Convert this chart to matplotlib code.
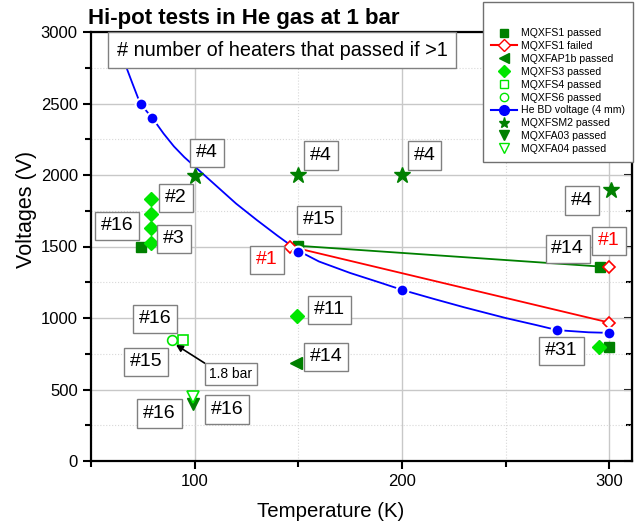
import matplotlib
matplotlib.use("Agg")
import matplotlib.pyplot as plt
from matplotlib.lines import Line2D
from matplotlib.ticker import MultipleLocator

plt.rcParams['font.family'] = ['Liberation Sans', 'DejaVu Sans']

# datos (T en K, V en voltios)
fs1_pass_T = [74, 150, 295.5, 300]
fs1_pass_V = [1500, 1505, 1360, 800]
fs1_fail_T = [146, 300, 300]
fs1_fail_V = [1500, 1360, 968]
fap1b_T = [149]
fap1b_V = [688]
fs3_T = [79, 79, 79, 79, 149.5, 295]
fs3_V = [1833, 1728, 1630, 1527, 1017, 798]
fs4_T = [94.5]
fs4_V = [848]
fs6_T = [89]
fs6_V = [848]
he_T = [74, 79.6, 150, 200, 275, 300]
he_V = [2497, 2399, 1465, 1197, 915, 896]
fsm2_T = [100, 150, 200, 301]
fsm2_V = [1995, 2000, 2000, 1898]
fa03_T = [99]
fa03_V = [402]
fa04_T = [99]
fa04_V = [450]

# curva de ruptura del He (leida a lo largo de la linea azul)
curva_T = [62, 65, 67, 70, 73.8, 79.6, 85, 90, 95, 100, 110, 120, 130, 140, 150,
           160, 175, 190, 200, 215, 230, 250, 265, 275, 290, 300]
curva_V = [3050, 2870, 2755, 2640, 2497, 2399, 2290, 2200, 2125, 2060, 1930, 1800,
           1685, 1575, 1470, 1395, 1315, 1245, 1197, 1135, 1075, 1000, 950, 915, 900, 896]

# lineas rectas entre puntos
linea_roja_T = [146, 300]
linea_roja_V = [1500, 968]
linea_verde_T = [150, 295.5]
linea_verde_V = [1505, 1360]

# etiquetas "#n": (T, V, texto, color)
etiquetas = [
    (106, 2155, '#4', 'black'), (161, 2135, '#4', 'black'), (211, 2135, '#4', 'black'),
    (287, 1820, '#4', 'black'), (91, 1840, '#2', 'black'), (90, 1553, '#3', 'black'),
    (62.5, 1644, '#16', 'black'), (160, 1686, '#15', 'black'), (135, 1406, '#1', 'red'),
    (280, 1483, '#14', 'black'), (300, 1539, '#1', 'red'), (277, 770, '#31', 'black'),
    (165, 1057, '#11', 'black'), (163.5, 728, '#14', 'black'), (81, 994, '#16', 'black'),
    (76.5, 693, '#15', 'black'), (83, 330, '#16', 'black'), (115.5, 358, '#16', 'black'),
]

verde = '#008000'
lima = '#00e600'

fig = plt.figure(figsize=(6.41, 5.25), dpi=100)
ax = fig.add_axes([91/641, 1-461/525, 541/641, 429/525])

ax.plot(curva_T, curva_V, color='blue', lw=1.3, zorder=2)
ax.plot(linea_roja_T, linea_roja_V, color='red', lw=1.3, zorder=2)
ax.plot(linea_verde_T, linea_verde_V, color=verde, lw=1.3, zorder=2)

ax.plot(he_T, he_V, 'o', color='blue', ms=8.5, mec='white', mew=1.5, zorder=4)
ax.plot(fs1_pass_T, fs1_pass_V, 's', color=verde, ms=6.5, zorder=3)
ax.plot(fs1_fail_T, fs1_fail_V, 'D', mfc='white', mec='red', mew=1.2, ms=6.5, zorder=3)
ax.plot(fap1b_T, fap1b_V, '<', color=verde, ms=8, zorder=3)
ax.plot(fs3_T, fs3_V, 'D', color=lima, ms=7, zorder=3)
ax.plot(fs4_T, fs4_V, 's', mfc='none', mec=lima, mew=1.2, ms=6.5, zorder=3)
ax.plot(fs6_T, fs6_V, 'o', mfc='none', mec=lima, mew=1.2, ms=7, zorder=3)
ax.plot(fsm2_T, fsm2_V, '*', color=verde, ms=12, zorder=3)
ax.plot(fa03_T, fa03_V, 'v', color=verde, ms=9, zorder=3)
ax.plot(fa04_T, fa04_V, 'v', mfc='white', mec=lima, mew=1.2, ms=9, zorder=3)

caja = dict(boxstyle='square,pad=0.3', fc='white', ec='#808080', lw=1)
for t, v, txt, col in etiquetas:
    ax.text(t, v, txt, color=col, fontsize=14, ha='center', va='center', bbox=caja, zorder=5)

ax.annotate('1.8 bar', xy=(91, 812), xytext=(117.5, 609), fontsize=10,
            ha='center', va='center', bbox=dict(boxstyle='square,pad=0.3', fc='white', ec='#808080', lw=1),
            arrowprops=dict(arrowstyle='-|>', color='black', lw=1.2, shrinkA=0, shrinkB=0,
                            relpos=(0.08, 0.9)), zorder=5)

ax.text(0.353, 0.958, '# number of heaters that passed if >1', transform=ax.transAxes,
        fontsize=14.3, ha='center', va='center', zorder=6,
        bbox=dict(boxstyle='square,pad=0.43', fc='white', ec='#808080', lw=1))

ax.set_xlim(50, 311)
ax.set_ylim(0, 3000)
ax.xaxis.set_major_locator(MultipleLocator(100))
ax.xaxis.set_minor_locator(MultipleLocator(50))
ax.yaxis.set_major_locator(MultipleLocator(500))
ax.yaxis.set_minor_locator(MultipleLocator(250))
ax.grid(which='major', color='#c8c8c8', lw=1, zorder=0)
ax.grid(which='minor', color='#d8d8d8', lw=0.8, ls=':', zorder=0)
ax.set_axisbelow(True)
ax.tick_params(which='major', length=6, width=1.5, labelsize=12, direction='out')
ax.tick_params(which='minor', length=4, width=1.5, direction='out')
for s in ax.spines.values():
    s.set_linewidth(1.6)

der = ax.secondary_yaxis('right')
der.yaxis.set_major_locator(MultipleLocator(500))
der.yaxis.set_minor_locator(MultipleLocator(250))
der.tick_params(which='both', direction='in', labelright=False, width=1.5)
der.tick_params(which='major', length=6)
der.tick_params(which='minor', length=4)

ax.set_xlabel('Temperature (K)', fontsize=14.7)
ax.set_ylabel('Voltages (V)', fontsize=15.5)
ax.xaxis.set_label_coords((331-91)/541, -0.095)
ax.yaxis.set_label_coords(-0.100, (461-209)/429)

fig.text(88/641, 1-8/525, 'Hi-pot tests in He gas at 1 bar', fontsize=16,
         fontweight='bold', ha='left', va='top')

handles = [
    Line2D([], [], ls='none', marker='s', color=verde, ms=6),
    Line2D([], [], color='red', marker='D', mfc='white', mec='red', ms=6),
    Line2D([], [], ls='none', marker='<', color=verde, ms=7),
    Line2D([], [], ls='none', marker='D', color=lima, ms=6),
    Line2D([], [], ls='none', marker='s', mfc='none', mec=lima, ms=6),
    Line2D([], [], ls='none', marker='o', mfc='none', mec=lima, ms=6),
    Line2D([], [], color='blue', marker='o', ms=7),
    Line2D([], [], ls='none', marker='*', color=verde, ms=8),
    Line2D([], [], ls='none', marker='v', color=verde, ms=7),
    Line2D([], [], ls='none', marker='v', mfc='white', mec=lima, ms=7),
]
nombres = ['MQXFS1 passed', 'MQXFS1 failed', 'MQXFAP1b passed', 'MQXFS3 passed',
           'MQXFS4 passed', 'MQXFS6 passed', 'He BD voltage (4 mm)', 'MQXFSM2 passed',
           'MQXFA03 passed', 'MQXFA04 passed']
leg = fig.legend(handles, nombres, loc='upper right', bbox_to_anchor=(633/641, 1-2/525),
                 fontsize=7.6, title=' ', title_fontsize=12.5, labelspacing=0.27,
                 handlelength=2.5, handletextpad=0.3, fancybox=False, framealpha=1,
                 edgecolor='#707070', borderpad=0.8, borderaxespad=0)
leg.get_frame().set_linewidth(1)
leg.set_zorder(10)

fig.savefig('out.png', dpi=100)
